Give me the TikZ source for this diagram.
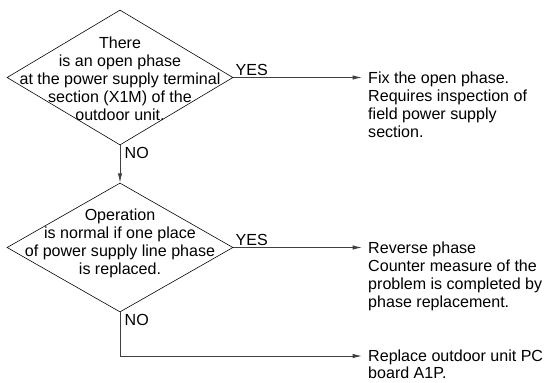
\documentclass[tikz,border=0pt]{standalone}
\usepackage{fontspec}
\setmainfont{Liberation Sans}
\usetikzlibrary{shapes.geometric, arrows.meta}

\begin{document}
\begin{tikzpicture}[x=0.03cm, y=-0.03cm,
    >={Latex[length=2.8mm, width=1.3mm]},
    question/.style={diamond, draw=black, line width=0.5pt, inner sep=0pt,
                     minimum width=6.78cm, minimum height=4.05cm},
    asktext/.style={align=center, inner sep=0pt, font=\fontsize{13.7}{15.4}\selectfont},
    result/.style={anchor=north west, align=left, inner sep=0pt, font=\fontsize{13.7}{15.4}\selectfont},
    answer/.style={inner sep=1.8pt, font=\fontsize{13.7}{15.4}\selectfont},
    flow/.style={->, line width=0.7pt, draw=black!75}]
    \useasboundingbox (0,0) rectangle (544,382);
    % decisions
    \node[question] (q1) at (120,77.5) {};
    \node[question, minimum height=3.87cm] (q2) at (120,247.5) {};
    \node[asktext] (a1) at (120,79) {There\\is an open phase\\at the power supply terminal\\section (X1M) of the\\outdoor unit.};
    \node[asktext] (a2) at (120,243) {Operation\\is normal if one place\\of power supply line phase\\is replaced.};
    % results
    \coordinate (e1) at (362,77.5);
    \coordinate (e2) at (362,247.5);
    \coordinate (e3) at (362,356);
    \node[result] (r1) at (368,71.5) {Fix the open phase.\\Requires inspection of\\field power supply\\section.};
    \node[result] (r2) at (368,241.5) {Reverse phase\\Counter measure of the\\problem is completed by\\phase replacement.};
    \node[result, font=\fontsize{13.7}{14.6}\selectfont] (r3) at (368,350) {Replace outdoor unit PC\\board A1P.};
    % connectors
    \draw[flow] (q1.east) -- (e1);
    \draw[flow] (q1.south) -- (q2.north);
    \draw[flow] (q2.east) -- (e2);
    \draw[flow] (q2.south) |- (e3);
    \node[answer, anchor=south west] (y1) at (q1.east) {YES};
    \node[answer, anchor=south west] (y2) at (q2.east) {YES};
    \node[answer, anchor=north west, xshift=2pt] (n1) at (q1.south) {NO};
    \node[answer, anchor=north west, xshift=2pt] (n2) at (q2.south) {NO};
\end{tikzpicture}
\end{document}
